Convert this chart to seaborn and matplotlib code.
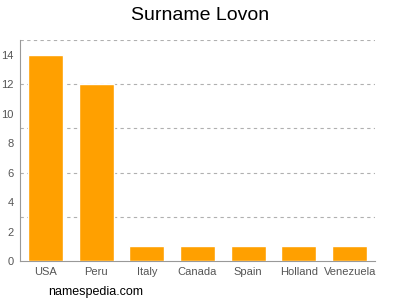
import matplotlib
matplotlib.use("Agg")
import matplotlib.pyplot as plt
import seaborn as sns
import pandas as pd

countries = ["USA", "Peru", "Italy", "Canada", "Spain", "Holland", "Venezuela"]
counts = [14, 12, 1, 1, 1, 1, 1]
y_ticks = [0, 2, 4, 6, 8, 10, 12, 14]
grid_levels = [3, 6, 9, 12, 15]

sns.set_style("white")
plt.rcParams['font.family'] = ['Liberation Sans', 'DejaVu Sans']

df = pd.DataFrame({"country": countries, "count": counts})
fig = plt.figure(figsize=(4, 3), dpi=100)
ax = fig.add_axes([0.05, 0.13, 0.8875, 0.7367])
sns.barplot(data=df, x="country", y="count", color="#FFA000", saturation=1,
            width=0.69, ax=ax, zorder=3)
for g in grid_levels:
    ax.axhline(g, color="#b0b0b0", linestyle=(0, (3, 3)), linewidth=0.8, zorder=1)
ax.set_xlim(-0.5, len(countries) - 0.5)
ax.set_ylim(0, 15)
ax.set_yticks(y_ticks)
ax.set_xlabel("")
ax.set_ylabel("")
for s in ["top", "right"]:
    ax.spines[s].set_visible(False)
for s in ["left", "bottom"]:
    ax.spines[s].set_color("#999999")
    ax.spines[s].set_linewidth(0.8)
ax.tick_params(axis="both", colors="#999999", labelcolor="#555555", labelsize=8,
               length=3, width=0.8, pad=1.5)
fig.text(0.5, 0.948, "Surname Lovon", ha="center", va="center", fontsize=14, color="#000000")
fig.text(0.12, 0.027, "namespedia.com", ha="left", va="center", fontsize=9, color="#000000")
fig.savefig("out.png", dpi=100)
